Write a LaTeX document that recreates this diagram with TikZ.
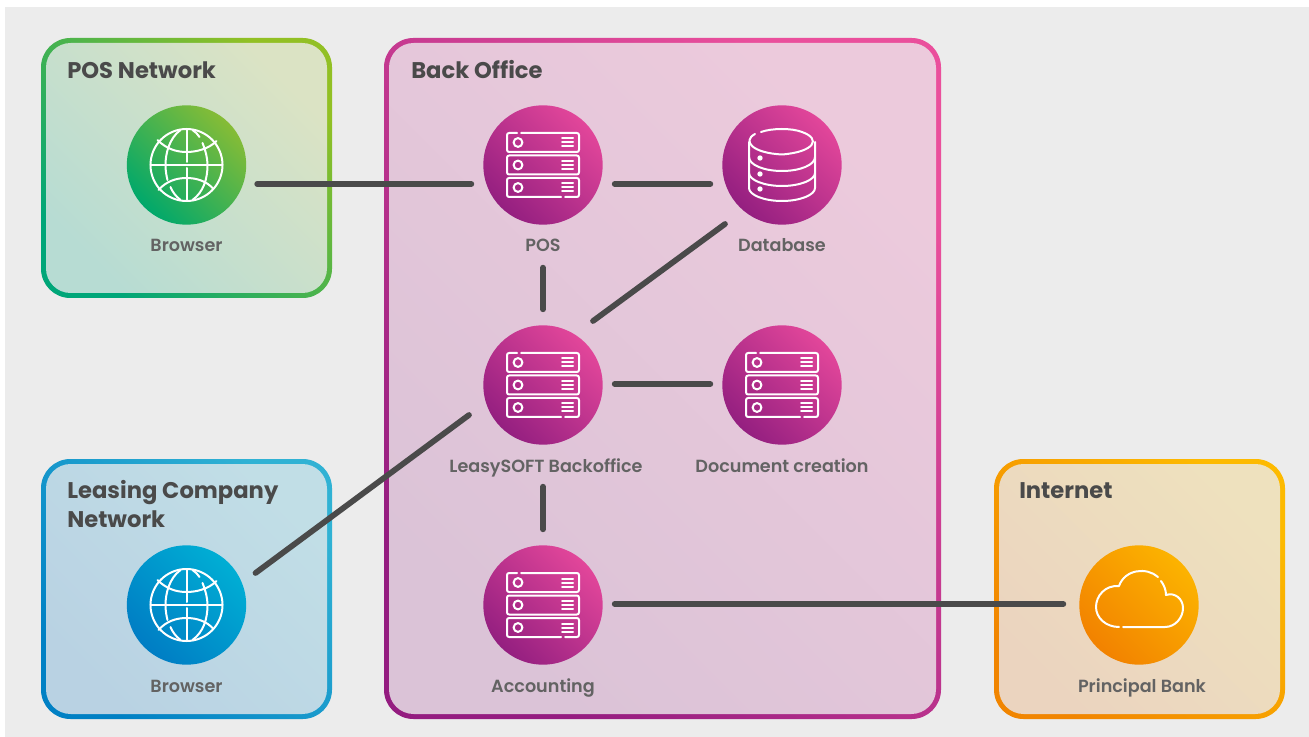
\documentclass[tikz,border=0pt]{standalone}
\usepackage{fontspec}
\setmainfont{Poppins}
\newfontfamily\titlefont{Poppins Bold}
\newfontfamily\labelfont{Poppins SemiBold}
\usetikzlibrary{calc}

\definecolor{pageGrey}{HTML}{ECECEC}
\definecolor{linkGrey}{HTML}{4A4A4A}
\definecolor{labelGrey}{HTML}{636363}
\definecolor{greenEdgeL}{HTML}{00A678}
\definecolor{greenEdgeR}{HTML}{92C024}
\definecolor{greenFillL}{HTML}{B7DCD3}
\definecolor{greenFillR}{HTML}{DBE3C4}
\definecolor{greenHubL}{HTML}{00A86B}
\definecolor{greenHubR}{HTML}{86BC36}
\definecolor{pinkEdgeL}{HTML}{941C80}
\definecolor{pinkEdgeR}{HTML}{EA4F9C}
\definecolor{pinkFillL}{HTML}{DBC3D7}
\definecolor{pinkFillR}{HTML}{ECCADC}
\definecolor{pinkHubL}{HTML}{941F80}
\definecolor{pinkHubR}{HTML}{E2469A}
\definecolor{blueEdgeL}{HTML}{0080C4}
\definecolor{blueEdgeR}{HTML}{30B2D4}
\definecolor{blueFillL}{HTML}{B9D2E3}
\definecolor{blueFillR}{HTML}{C1DEE6}
\definecolor{blueHubL}{HTML}{007DC4}
\definecolor{blueHubR}{HTML}{00AED4}
\definecolor{orangeEdgeL}{HTML}{F18500}
\definecolor{orangeEdgeR}{HTML}{FDBA00}
\definecolor{orangeFillL}{HTML}{EBD4BF}
\definecolor{orangeFillR}{HTML}{EEE1BE}
\definecolor{orangeHubL}{HTML}{F28200}
\definecolor{orangeHubR}{HTML}{FCB300}

\begin{document}
\begin{tikzpicture}[x=.75pt,y=-.75pt,
	hub/.style={circle,minimum size=89.5pt,inner sep=0pt,outer sep=0pt,left color=#1HubL,right color=#1HubR,shading angle=135},
	link/.style={draw=linkGrey,line width=4.3pt,line cap=round},
	title/.style={anchor=base west,inner sep=0pt,text=linkGrey,align=left,font=\titlefont\fontsize{17}{21.4}\selectfont},
	caption/.style={anchor=base,inner sep=0pt,text=labelGrey,font=\labelfont\fontsize{13.2}{15}\selectfont},
	icon/.style={draw=white,line width=1.5pt,line cap=round,line join=round},
	server icon/.pic={
		\draw [icon,rounded corners=1.6pt] (-22,-32) -- (36,-32) -- (36,-13) -- (-36,-13) -- (-36,-32) -- (-26,-32);
		\draw [icon,rounded corners=1.6pt] (-36,-9.5) rectangle (36,9.5);
		\draw [icon,rounded corners=1.6pt] (22,32) -- (36,32) -- (36,13) -- (-36,13) -- (-36,32) -- (18,32);
		\foreach \r in {-22.5,0,22.5} {
			\draw [icon] (-25,\r) circle [radius=3.3pt];
			\draw [icon] (19,\r-4) -- (30,\r-4);
			\draw [icon] (19,\r) -- (30,\r);
			\draw [icon] (19,\r+4) -- (30,\r+4);
		}
	},
	database icon/.pic={
		\draw [icon] (-21,-33) .. controls (-10,-37) and (10,-37) .. (20,-33)
			.. controls (40,-26) and (32,-13) .. (0,-10.5)
			.. controls (-30,-12) and (-40,-24) .. (-27,-31);
		\draw [icon] (-33,-23) -- (-33,23) .. controls (-33,30) and (-18,36) .. (0,36)
			.. controls (18,36) and (33,30) .. (33,23) -- (33,-23);
		\draw [icon] (-33,-8) .. controls (-33,0) and (-18,6) .. (0,6) .. controls (18,6) and (33,0) .. (33,-8);
		\draw [icon] (-33,8) .. controls (-33,15) and (-18,21) .. (0,21) .. controls (18,21) and (33,15) .. (33,8);
		\foreach \r in {-7,9,24} {
			\fill [white] (-22,\r) circle [radius=2pt];
		}
	},
	globe icon/.pic={
		\draw [icon] (0,0) circle [radius=27pt];
		\draw [icon] (-36,0) -- (36,0);
		\draw [icon] (0,-36) -- (0,-3);
		\draw [icon] (0,3) -- (0,36);
		\draw [icon] (-29,-25) .. controls (-20,-16) and (-10,-13) .. (0,-13) .. controls (10,-13) and (22,-16) .. (30,-24);
		\draw [icon] (-28,25) .. controls (-20,16) and (-10,13) .. (0,13) .. controls (10,13) and (20,16) .. (27,24);
		\draw [icon] (-6,-35) .. controls (-17,-27) and (-21,-12) .. (-21,0) .. controls (-21,6) and (-20,11) .. (-19,15);
		\draw [icon] (-16,22) .. controls (-14,27) and (-11,31) .. (-6,35);
		\draw [icon] (6,-35) .. controls (9,-33) and (11,-31) .. (13,-28);
		\draw [icon] (16,-22) .. controls (19,-15) and (21,-7) .. (21,0) .. controls (21,14) and (17,27) .. (6,35);
	},
	cloud icon/.pic={
		\draw [icon] (-16,22) -- (26,22) .. controls (36,22) and (44,13) .. (44,3) .. controls (44,-6) and (36,-13) .. (27,-10)
			.. controls (27,-15) and (25,-20) .. (22,-24);
		\draw [icon] (19,-28) .. controls (8,-38) and (-14,-36) .. (-20,-19)
			.. controls (-34,-20) and (-43,-9) .. (-43,2) .. controls (-43,13) and (-33,22) .. (-20,22);
	}]
	
	\useasboundingbox (0,0) rectangle (1309,737);
	\fill [pageGrey] (5,7) rectangle (1309,737);
	
	%---------------------------------------------
	
	\foreach \xa/\ya/\xb/\yb/\c in {41/38/332/298/green,384/38/941/719/pink,41/459/332/719/blue,994/459/1285/719/orange} {
		\shade [rounded corners=22pt,left color=\c EdgeL,right color=\c EdgeR,shading angle=135] (\xa,\ya) rectangle (\xb,\yb);
		\shade [rounded corners=18.5pt,left color=\c FillL,right color=\c FillR,shading angle=135] (\xa+5,\ya+5) rectangle (\xb-5,\yb-5);
	}
	
	\node [title] (posnettitle) at (67,79) {POS Network};
	\node [title] (officetitle) at (411,79) {Back Office};
	\node [title] (leasenettitle) at (67,527) {Leasing Company\\Network};
	\node [title] (nettitle) at (1019,498) {Internet};
	
	%---------------------------------------------
	
	\foreach \name/\x/\y/\dx/\c/\icon/\txt in {
		browserA/186.5/165/0/green/globe icon/Browser,
		pos/543/165/0/pink/server icon/POS,
		database/782/165/0/pink/database icon/Database,
		leasy/543/385/3/pink/server icon/LeasySOFT Backoffice,
		document/782/385/0/pink/server icon/Document creation,
		accounting/543/605/0/pink/server icon/Accounting,
		browserB/186.5/605/0/blue/globe icon/Browser,
		bank/1139/605/3/orange/cloud icon/Principal Bank} {
		\node [hub=\c] (\name) at (\x,\y) {};
		\pic at (\name) {\icon};
		\node [caption] (\name label) at ($(\name)+(\dx,87)$) {\txt};
	}
	
	%---------------------------------------------
	
	\draw [link] ($(browserA.east)+(11,19)$) -- ($(pos.west)+(-12,19)$);
	\draw [link] ($(pos.east)+(12,19)$) -- ($(database.west)+(-12,19)$);
	\draw [link] ($(pos.south)+(0,43)$) -- ($(leasy.north)+(0,-16)$);
	\draw [link] ($(database)+(-57,59)$) -- ($(leasy)+(50,-64)$);
	\draw [link] ($(leasy.east)+(12,-1)$) -- ($(document.west)+(-12,-1)$);
	\draw [link] ($(leasy.south)+(0,42)$) -- ($(accounting.north)+(0,-16)$);
	\draw [link] ($(browserB)+(69,-32)$) -- ($(leasy)+(-74,30)$);
	\draw [link] ($(accounting.east)+(12,-1)$) -- ($(bank.west)+(-16,-1)$);
	
\end{tikzpicture}
\end{document}
